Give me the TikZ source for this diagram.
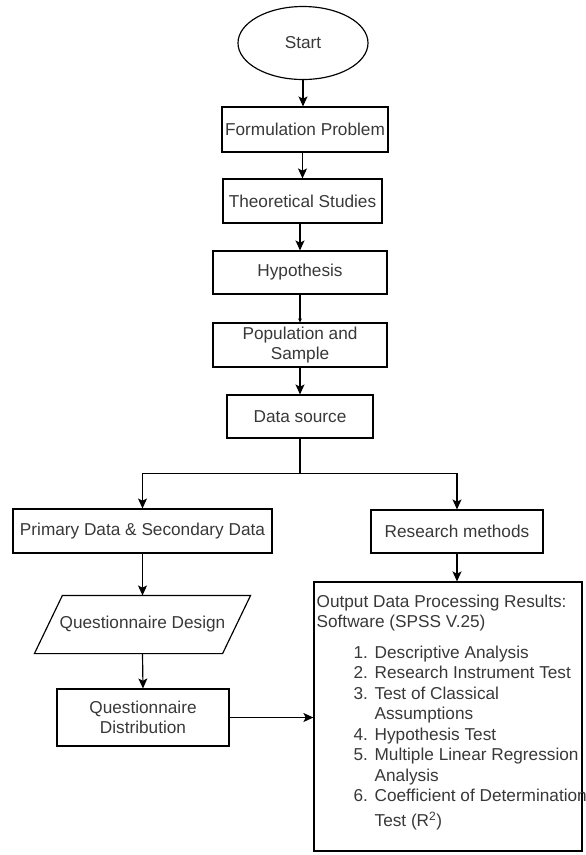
\documentclass[tikz,border=0pt]{standalone}
\usepackage{fontspec}
\setmainfont{Liberation Sans}
\usepackage{xcolor}
\usetikzlibrary{shapes.geometric}
\usetikzlibrary{arrows.meta}
\usetikzlibrary{calc}
\definecolor{inkgray}{HTML}{383838}
\newcommand{\itemno}[1]{\makebox[0.63cm][l]{#1}}

\begin{document}
\begin{tikzpicture}[
	x = 0.03cm, y = -0.03cm,
	font = \fontsize{14.7pt}{17.5pt}\selectfont,
	>={Stealth[length=0.3cm, width=0.27cm, inset=0.07cm]},
	flow/.style={draw, line width=1pt, text=inkgray},
	pbox/.style={flow, rectangle, align=center, inner sep=0pt},
	term/.style={flow, ellipse, minimum width=3.9cm, minimum height=2.19cm},
	link/.style={line width=1pt, ->},
	]

	\useasboundingbox (0,0) rectangle (586,855);

	\node[term] (start) at (303,43) {Start};
	\node[pbox, minimum width=4.98cm, minimum height=1.35cm] (formul) at (305,129.5) {Formulation Problem};
	\node[pbox, minimum width=4.77cm, minimum height=1.32cm] (theo) at (302.5,201) {Theoretical Studies};
	\node[pbox, minimum width=5.22cm, minimum height=1.29cm] (hypo) at (300,272.5) {Hypothesis};
	\node[pbox, minimum width=5.22cm, minimum height=1.32cm] (pop) at (300,345) {Population and\\Sample};
	\node[pbox, minimum width=4.38cm, minimum height=1.29cm] (datasrc) at (300,416.5) {Data source};
	\coordinate (split) at ([yshift=-1.05cm] datasrc.south);

	\node[pbox, minimum width=7.77cm, minimum height=1.32cm] (primary) at (142.5,531) {Primary Data \& Secondary Data};
	\node[pbox, minimum width=5.16cm, minimum height=1.29cm] (research) at (457,531.5) {Research methods};

	\node[pbox, draw=none, minimum width=5.61cm, minimum height=1.71cm] (qdesign) at (142.5,624.5) {Questionnaire Design};
	\draw[line width=1pt]
		([xshift=-0.42cm] qdesign.south west) -- ([xshift=-0.42cm] qdesign.south east) --
		([xshift=0.42cm] qdesign.north east) -- ([xshift=0.42cm] qdesign.north west) -- cycle;
	\node[pbox, minimum width=5.16cm, minimum height=1.71cm] (qdist) at (143,717.5) {Questionnaire\\Distribution};

	\node[flow, rectangle, minimum width=8.04cm, minimum height=8.07cm] (output) at (448,716.5) {};
	\node[anchor=north west, align=left, inner sep=0pt, text=inkgray] (outtext) at ([xshift=0.09cm, yshift=-0.39cm] output.north west) {
		Output Data Processing Results:\\
		Software (SPSS V.25)\\[0.3cm]
		\hspace*{1.11cm}\itemno{1.}Descriptive Analysis\\
		\hspace*{1.11cm}\itemno{2.}Research Instrument Test\\
		\hspace*{1.11cm}\itemno{3.}Test of Classical\\
		\hspace*{1.74cm}Assumptions\\
		\hspace*{1.11cm}\itemno{4.}Hypothesis Test\\
		\hspace*{1.11cm}\itemno{5.}Multiple Linear Regression\\
		\hspace*{1.74cm}Analysis\\
		\hspace*{1.11cm}\itemno{6.}Coefficient of Determination\\[0.12cm]
		\hspace*{1.74cm}Test (R\textsuperscript{2})};

	\draw[link] (start.south) -- (start.south |- formul.north);
	\draw[link] (theo.north |- formul.south) -- (theo.north);
	\draw[link] (hypo.north |- theo.south) -- (hypo.north);
	\draw[line width=1pt, -{Stealth[length=0.12cm, width=0.12cm]}] (hypo.south) -- (pop.north);
	\draw[link] (pop.south) -- (datasrc.north);

	\draw[line width=1pt] (datasrc.south) -- (split);
	\draw[link] (split) -| (primary.north);
	\draw[link] (split) -| (research.north);

	\draw[link] (primary.south) -- (qdesign.north);
	\draw[link] (qdesign.south) -- (qdist.north);
	\draw[link] (research.south) -- (research.south |- output.north);
	\draw[link] (qdist.east) -- (qdist.east -| output.west);

\end{tikzpicture}
\end{document}
